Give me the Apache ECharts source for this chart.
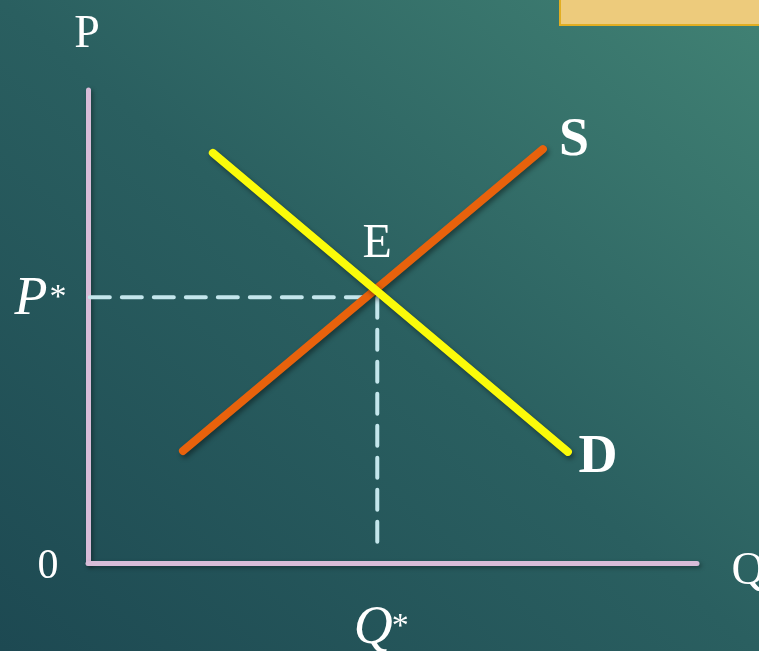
<!DOCTYPE html>
<html>
<head>
<meta charset="utf-8">
<script src="https://cdn.jsdelivr.net/npm/echarts@6/dist/echarts.min.js"></script>
<style>
  html, body { margin: 0; padding: 0; }
  body {
    width: 759px; height: 651px; overflow: hidden;
    background: linear-gradient(to top right, #1d4952 0%, #2a5f60 50%, #418274 100%);
  }
  #chart { width: 759px; height: 651px; }
</style>
</head>
<body>
<div id="chart"></div>
<script>
// axis range (abstract units)
const xRange = [0, 10]
const yRange = [0, 10]

// supply and demand lines
const supply = [[1.56, 2.37], [7.47, 8.75]]
const demand = [[2.05, 8.67], [7.88, 2.35]]

// equilibrium point (where the dashed guides meet)
const equilibrium = [4.75, 5.62]
const dashBottom = 0.38

// labels
const lineLabels = { supply: 'S', demand: 'D', eq: 'E' }
const axisNames = { x: 'Q', y: 'P', origin: '0' }
const starLabels = { x: 'Q', y: 'P' }

const chart = echarts.init(document.getElementById('chart'), null, { renderer: 'canvas' })

const axisColor = '#d8bcd8'
const serif = '"Liberation Serif", "DejaVu Serif", serif'

const option = {
  backgroundColor: 'transparent',
  animation: false,
  grid: { left: 88, right: 62, top: 90, bottom: 88 },
  xAxis: {
    type: 'value', min: xRange[0], max: xRange[1],
    axisLine: { show: true, lineStyle: { color: axisColor, width: 5, cap: 'round',
      shadowColor: 'rgba(0,0,0,0.35)', shadowBlur: 4, shadowOffsetX: 2, shadowOffsetY: 2 } },
    axisTick: { show: false }, axisLabel: { show: false }, splitLine: { show: false }
  },
  yAxis: {
    type: 'value', min: yRange[0], max: yRange[1],
    axisLine: { show: true, lineStyle: { color: axisColor, width: 5, cap: 'round',
      shadowColor: 'rgba(0,0,0,0.35)', shadowBlur: 4, shadowOffsetX: 2, shadowOffsetY: 2 } },
    axisTick: { show: false }, axisLabel: { show: false }, splitLine: { show: false }
  },
  series: [
    {
      name: 'guides', type: 'line', symbol: 'none', z: 2,
      data: [[xRange[0] + 0.03, equilibrium[1]], equilibrium, [equilibrium[0], dashBottom]],
      lineStyle: { color: '#c4e6ec', width: 4, type: [20, 12], cap: 'round' }
    },
    {
      name: 'supply', type: 'line', symbol: 'none', z: 3,
      data: supply,
      lineStyle: { color: '#e8620c', width: 8, cap: 'round',
        shadowColor: 'rgba(0,0,0,0.4)', shadowBlur: 5, shadowOffsetX: 2, shadowOffsetY: 3 }
    },
    {
      name: 'demand', type: 'line', symbol: 'none', z: 4,
      data: demand,
      lineStyle: { color: '#fbfb0a', width: 8, cap: 'round',
        shadowColor: 'rgba(0,0,0,0.4)', shadowBlur: 5, shadowOffsetX: 2, shadowOffsetY: 3 }
    }
  ]
}

chart.setOption(option)

// place text labels relative to data positions
const px = p => chart.convertToPixel({ gridIndex: 0 }, p)
const sEnd = px(supply[1])
const dEnd = px(demand[1])
const eq = px(equilibrium)
const origin = px([xRange[0], yRange[0]])
const yTop = px([xRange[0], yRange[1]])
const xEnd = px([xRange[1], yRange[0]])

const txt = (x, y, text, size, extra) => Object.assign({
  type: 'text', x: x, y: y, z: 10,
  style: Object.assign({ text: text, fill: '#ffffff', font: size + 'px ' + serif,
    align: 'center', verticalAlign: 'middle' }, extra || {})
})

chart.setOption({
  graphic: [
    // box at top right
    { type: 'rect', shape: { x: 560, y: -4, width: 210, height: 29 },
      style: { fill: '#edcb7c', stroke: '#e2ae22', lineWidth: 2 }, z: 5 },
    txt(yTop[0] - 1, yTop[1] - 55, axisNames.y, 46),
    txt(xEnd[0] + 51, xEnd[1] + 9, axisNames.x, 46),
    txt(origin[0] - 40, origin[1] + 4, axisNames.origin, 42),
    txt(eq[0], eq[1] - 53, lineLabels.eq, 48),
    txt(sEnd[0] + 31, sEnd[1] - 8, lineLabels.supply, 54, { font: 'bold 54px ' + serif }),
    txt(dEnd[0] + 30, dEnd[1] + 6, lineLabels.demand, 54, { font: 'bold 54px ' + serif }),
    txt(origin[0] - 57, eq[1] + 3, starLabels.y, 54, { font: 'italic 54px ' + serif }),
    txt(origin[0] - 30, eq[1] + 1, '*', 34),
    txt(eq[0] - 4, origin[1] + 66, starLabels.x, 54, { font: 'italic 54px ' + serif }),
    txt(eq[0] + 23, origin[1] + 64, '*', 34)
  ]
})
</script>
</body>
</html>
